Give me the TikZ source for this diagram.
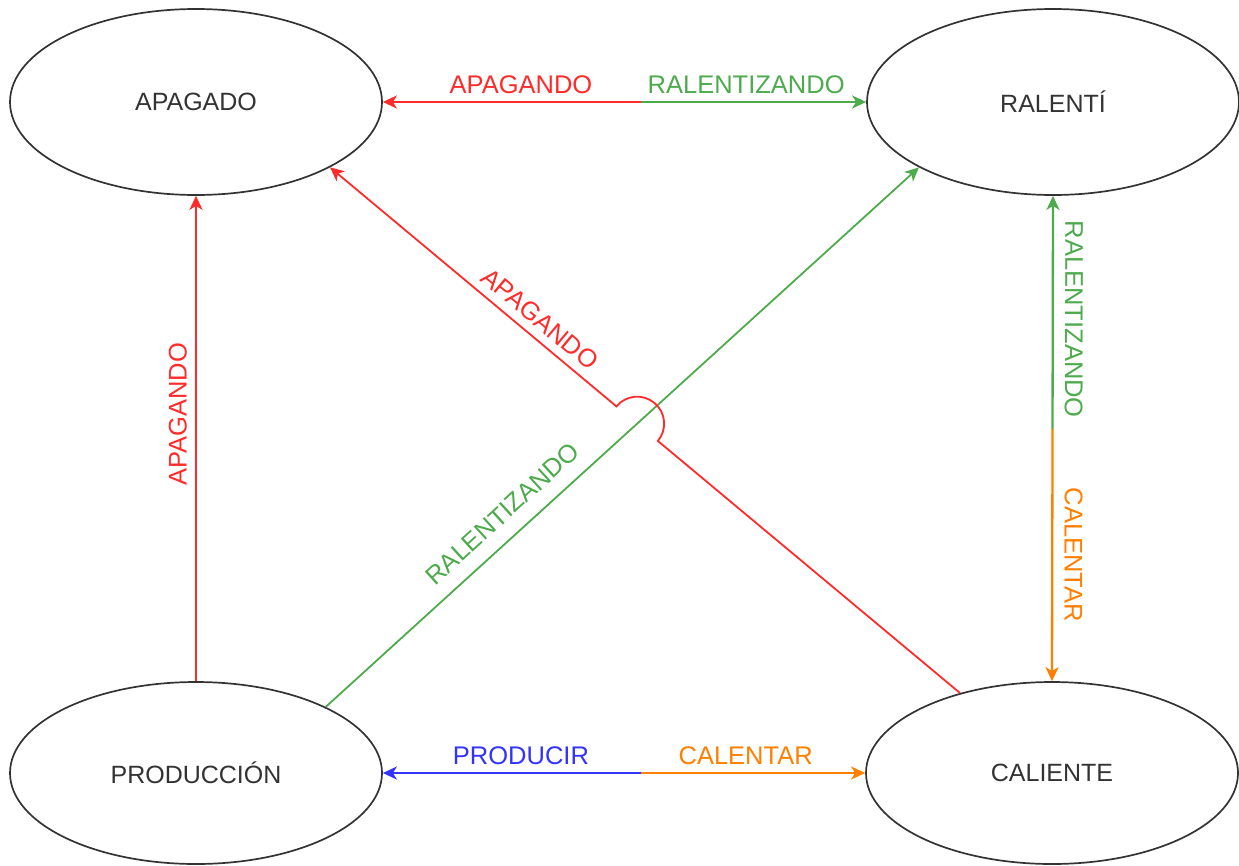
\documentclass[tikz,border=0pt]{standalone}
\usepackage{fontspec}
\setmainfont{Liberation Sans}
\usetikzlibrary{shapes.geometric,arrows.meta,calc,intersections}
\definecolor{cred}{HTML}{FF2A2A}
\definecolor{cgreen}{HTML}{4DAA4D}
\definecolor{cblue}{HTML}{3333FF}
\definecolor{corange}{HTML}{FF8000}
\definecolor{cink}{HTML}{333333}
\begin{document}
\begin{tikzpicture}[x=1pt,y=1pt,
  >={Stealth[length=14pt,width=13pt,inset=4pt]},
  state/.style={ellipse, draw=cink, line width=1.7pt, minimum width=372pt,
    minimum height=186pt, inner sep=0pt, text=cink,
    font=\fontsize{25}{30}\selectfont},
  link/.style={line width=2.3pt, ->},
  diag/.style={line width=1.8pt, ->},
  lbl/.style={font=\fontsize{25.5}{30}\selectfont, inner sep=0pt},
]
\useasboundingbox (0,0) rectangle (1239,-865);

% states
\node[state] (apa) at (196,-102) {APAGADO};
\node[state] (ral) at (1053,-102) {RALENTÍ};
\node[state, minimum height=182pt] (prod) at (196,-773) {PRODUCCIÓN};
\node[state, minimum height=182pt] (cal) at (1052,-773) {CALIENTE};

% top pair of transitions
\coordinate (m1) at (641,-102);
\draw[link, cred] (m1) -- node[lbl, pos=0.465, above=7pt, text=cred] {APAGANDO} (apa.east);
\draw[link, cgreen] (m1) -- node[lbl, pos=0.467, above=7pt, text=cgreen] {RALENTIZANDO} (ral.west);

% bottom pair of transitions
\coordinate (m2) at (641,-773);
\draw[link, cblue] (m2) -- node[lbl, pos=0.465, above=7pt, text=cblue] {PRODUCIR} (prod.east);
\draw[link, corange] (m2) -- node[lbl, pos=0.467, above=7pt, text=corange] {CALENTAR} (cal.west);

% left vertical
\draw[link, cred] (prod.north) -- node[lbl, sloped, allow upside down, pos=0.55,
  above=8pt, text=cred] {APAGANDO} (apa.south);

% right vertical pair
\coordinate (m3) at ($(ral.south)!0.48!(cal.north)$);
\draw[line width=2.3pt, cgreen, <-] (ral.south) --
  node[lbl, sloped, allow upside down, pos=0.53, above=11pt, text=cgreen] {RALENTIZANDO} (m3);
\draw[link, corange] (m3) --
  node[lbl, sloped, allow upside down, above=11pt, text=corange] {CALENTAR} (cal.north);

% diagonals, the red one jumping over the green one
\coordinate (gS) at (prod.27);
\coordinate (gE) at (ral.206.7);
\coordinate (rS) at (cal.139);
\coordinate (rE) at (apa.-26.6);
\draw[diag, cgreen, name path=gline] (gS) -- (gE);
\path[name path=rline] (rS) -- (rE);
\path[name intersections={of=gline and rline, by=X}];
\draw[diag, cred] let \p1=($(rS)-(X)$), \n1={atan2(\y1,\x1)} in
  (rS) -- ($(X)!27pt!(rS)$) arc[start angle=\n1, delta angle=180, radius=27pt] -- (rE);
\path (rE) -- node[lbl, sloped, pos=0.315, above=9pt, text=cred] {APAGANDO} (rS);
\path (gS) -- node[lbl, sloped, pos=0.325, above=15pt, text=cgreen] {RALENTIZANDO} (gE);
\end{tikzpicture}
\end{document}
